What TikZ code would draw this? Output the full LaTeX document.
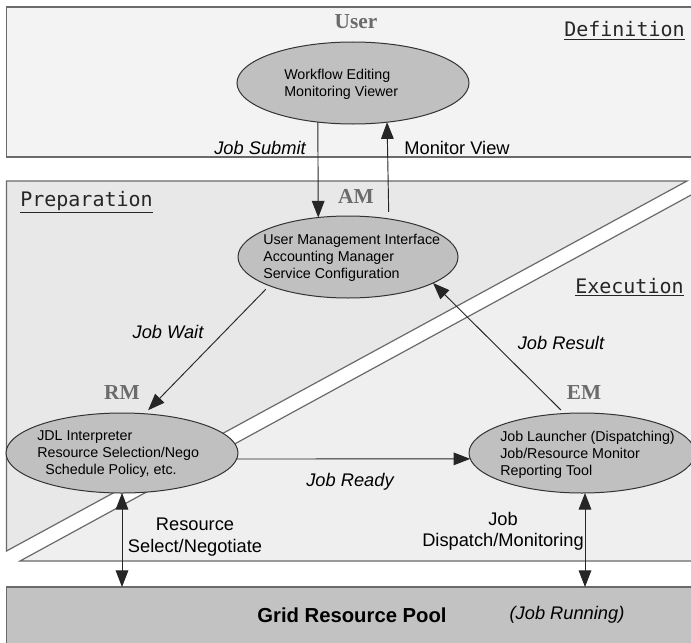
\documentclass[tikz,border=0pt]{standalone}
\usepackage{fontspec}
\setmainfont{Liberation Sans}
\newfontfamily\rolefont{Liberation Serif}
\newfontfamily\phasefont{DejaVu Sans Mono}
\usetikzlibrary{shapes.geometric,arrows.meta,calc}
\definecolor{defbg}{HTML}{F3F3F3}
\definecolor{prepbg}{HTML}{E8E8E8}
\definecolor{execbg}{HTML}{EFEFEF}
\definecolor{poolbg}{HTML}{C2C2C2}
\definecolor{ellbg}{HTML}{C0C0C0}
\definecolor{rolegrey}{HTML}{6B6B6B}
\definecolor{edgegrey}{HTML}{6A6A6A}
\begin{document}
\begin{tikzpicture}[x=0.75pt,y=-0.75pt,
  region/.style={draw=edgegrey, line width=0.9pt},
  compbox/.style={ellipse, draw=black!80, line width=0.75pt, fill=ellbg, inner sep=0pt, outer sep=0pt},
  comptext/.style={anchor=west, align=left, inner sep=0pt, font=\fontsize{10.7pt}{12.75pt}\selectfont},
  role/.style={inner sep=0pt, text=rolegrey, font=\rolefont\bfseries\fontsize{16pt}{18pt}\selectfont},
  phase/.style={anchor=base west, inner sep=0pt, text=black!85, font=\phasefont\fontsize{15pt}{17pt}\selectfont},
  flow/.style={inner sep=0pt, align=center, font=\fontsize{13.7pt}{16pt}\selectfont},
  conn/.style={draw=black!85, line width=0.7pt},
  arr/.style={conn, -{Triangle[length=12.5pt,width=9.5pt]}},
  darr/.style={conn, {Triangle[length=12.5pt,width=9.5pt]}-{Triangle[length=12.5pt,width=9.5pt]}}
]
\useasboundingbox (0,0) rectangle (691,642);
\clip (0,0) rectangle (691,642);

% regions
\fill[white] (0,0) rectangle (691,642);
\draw[region, fill=defbg] (6.5,7) rectangle (730,157);
\draw[region, fill=prepbg] (6.5,181) -- (687,181) -- (6.5,551) -- cycle;
\draw[region, fill=execbg] (20,561) -- (730,173.8) -- (730,561) -- cycle;
\node[region, fill=poolbg, rectangle, anchor=north west, minimum width=723.5*0.75pt, minimum height=80*0.75pt, inner sep=0pt, outer sep=0pt] (grid) at (6.5,587) {};

% phase labels
\node[phase] (defl) at (564,37) {\underline{Definition}};
\node[phase] (prepl) at (20,206) {\underline{Preparation}};
\node[phase] (execl) at (575,293) {\underline{Execution}};

% role labels
\node[role] (userl) at (356,22) {User};
\node[role] (aml) at (356,196) {AM};
\node[role] (rml) at (122,393) {RM};
\node[role] (eml) at (584,393) {EM};

% components
\node[compbox, minimum width=232*0.75pt, minimum height=82*0.75pt] (user) at (353,83) {};
\node[comptext] (usert) at (284,84.5) {Workflow Editing\\Monitoring Viewer};

\node[compbox, minimum width=220*0.75pt, minimum height=82*0.75pt] (am) at (348,257) {};
\node[comptext] (amt) at (263,258) {User Management Interface\\Accounting Manager\\Service Configuration};

\node[compbox, minimum width=232*0.75pt, minimum height=80*0.75pt] (rm) at (122,453) {};
\node[comptext] (rmt) at (37,454.5) {JDL Interpreter\\Resource Selection/Nego\\\hspace*{6pt}Schedule Policy, etc.};

\node[compbox, minimum width=226*0.75pt, minimum height=80*0.75pt] (em) at (582,453) {};
\node[comptext] (emt) at (500,455) {Job Launcher (Dispatching)\\Job/Resource Monitor\\Reporting Tool};

% pool labels
\node[inner sep=0pt, font=\bfseries\fontsize{15.2pt}{18pt}\selectfont] (poolt) at (352,615) {Grid Resource Pool};
\node[flow] (runt) at (567,615) {\itshape (Job Running)};

% connectors
\coordinate (emb) at ($(em.south)+(3,0)$);
\draw[arr] (user.228.1) -- (am.127.3);
\draw[arr, shorten <=5.25pt] (am.43.7) -- (user.311.9);
\draw[arr, shorten <=3.75pt, shorten >=3.75pt] (am.200.7) -- (rm.60.9);
\draw[arr, shorten <=3.75pt] (em.114) -- (am.-17);
\draw[arr] (rm.-3) -- (em.183);
\draw[darr] (rm.south) -- (rm.south |- grid.north);
\draw[darr] (emb) -- (emb |- grid.north);

% connector labels
\node[flow] (jsub) at (260,148) {\itshape Job Submit};
\node[flow] (mview) at (457,148) {Monitor View};
\node[flow] (jwait) at (168,332) {\itshape Job Wait};
\node[flow] (jres) at (561,343) {\itshape Job Result};
\node[flow] (jready) at (350,482) {\itshape Job Ready};
\node[flow] (rsel) at (195,537) {Resource\\Select/Negotiate};
\node[flow] (jdisp) at (503,531) {Job\\Dispatch/Monitoring};
\end{tikzpicture}
\end{document}
